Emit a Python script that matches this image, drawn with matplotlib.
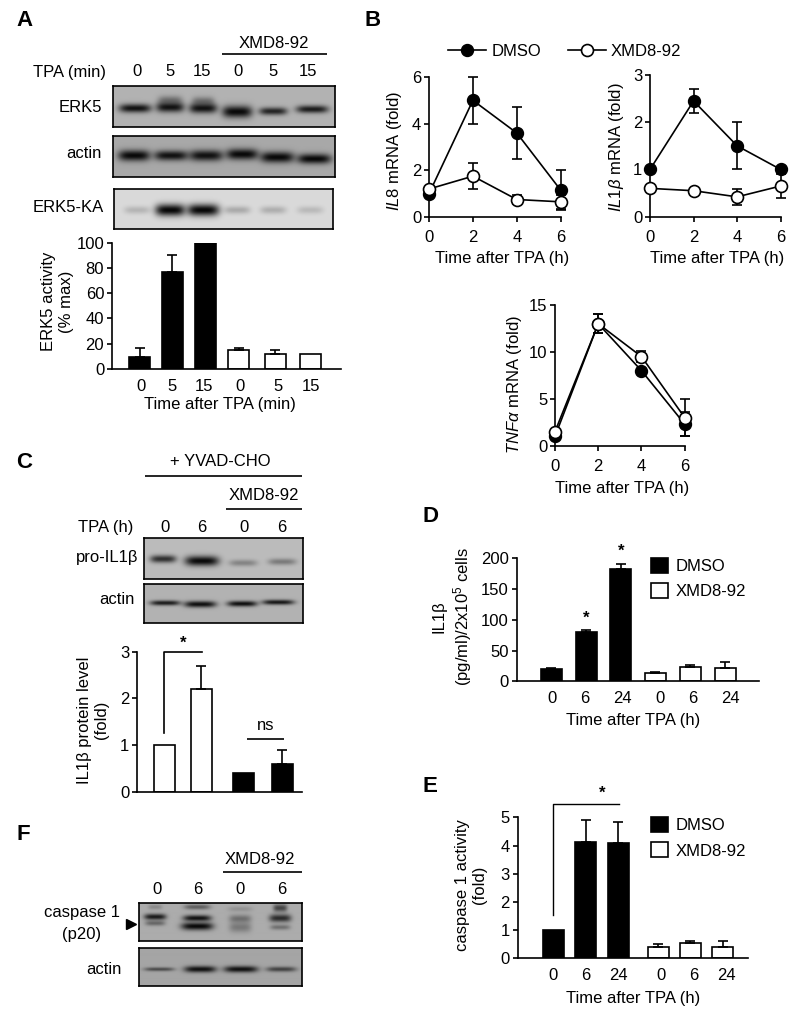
#!/usr/bin/env python
import matplotlib
matplotlib.use('Agg')
import matplotlib.pyplot as plt
from matplotlib.lines import Line2D
from matplotlib.patches import Patch
import numpy as np

plt.rcParams['font.family'] = ['Liberation Sans', 'DejaVu Sans']
plt.rcParams['mathtext.fontset'] = 'custom'
plt.rcParams['mathtext.rm'] = 'Liberation Sans'
plt.rcParams['mathtext.it'] = 'Liberation Sans:italic'
plt.rcParams['font.size'] = 12
plt.rcParams['axes.linewidth'] = 1.2

# A - ERK5 activity
a_labels = ['0', '5', '15', '0', '5', '15']
a_values = [9.5, 77, 100, 15, 12, 12]
a_errors = [7.5, 13, 0, 2, 3, 0]
a_colors = ['k', 'k', 'k', 'w', 'w', 'w']
a_yticks = [0, 20, 40, 60, 80, 100]

# B - mRNA time courses
hours = [0, 2, 4, 6]
il8_dmso = [1, 5, 3.6, 1.15]
il8_dmso_err = [0, 1, 1.1, 0.85]
il8_xmd = [1.2, 1.75, 0.75, 0.65]
il8_xmd_err = [0, 0.55, 0.2, 0.3]
il1b_dmso = [1, 2.45, 1.5, 1]
il1b_dmso_err = [0, 0.25, 0.5, 0]
il1b_xmd = [0.6, 0.55, 0.42, 0.65]
il1b_xmd_err = [0, 0, 0.17, 0.25]
tnf_dmso = [1, 13, 8, 2.3]
tnf_dmso_err = [0, 1, 0, 1.3]
tnf_xmd = [1.5, 13, 9.5, 3]
tnf_xmd_err = [0, 1, 0.6, 2]

# C - IL1b protein
c_values = [1, 2.2, 0.4, 0.6]
c_errors = [0, 0.5, 0, 0.3]
c_colors = ['w', 'w', 'k', 'k']

# D - IL1b secretion
d_labels = ['0', '6', '24', '0', '6', '24']
d_values = [20, 80, 182, 13, 23, 21]
d_errors = [2, 4, 8, 1.5, 4, 10]
d_colors = ['k', 'k', 'k', 'w', 'w', 'w']

# E - caspase 1 activity
e_values = [1, 4.12, 4.1, 0.4, 0.53, 0.4]
e_errors = [0, 0.8, 0.75, 0.1, 0.1, 0.2]

# blot bands: centre x, centre y, half width, half height, darkness
erk5_bands = [(135, 108, 16, 4.3, .9), (170, 107, 14, 5, .9), (170, 100, 12, 4.5, .35),
              (203, 108, 14, 5, .9), (203, 101, 11, 4.5, .35), (237, 111.5, 15, 6, .95),
              (273, 111, 14, 3.8, .8), (312, 109, 16, 3.8, .85)]
actin_a_bands = [(134, 155, 16, 5.5, .95), (171, 155, 17, 5, .9), (206, 155, 17, 5.5, .9),
                 (242, 153.7, 16, 5.5, .95), (277, 156.7, 17, 5.5, .95), (314, 158.3, 17, 5, .95)]
ka_bands = [(137, 210.5, 13, 3.8, .17), (170, 210.5, 15, 6, .97), (203, 210.5, 16, 6, .97),
            (237, 210.5, 13, 3.8, .22), (273, 210.5, 13, 3.8, .2), (310, 210.5, 13, 3.8, .15)]
pro_bands = [(163, 558.7, 13, 3.8, .75), (201.7, 560.7, 17, 5, .95),
             (243, 562.7, 14, 3.2, .3), (282, 561.5, 14, 3.2, .35)]
actin_c_bands = [(165, 602.7, 15, 2.5, .85), (200, 604, 16, 3.2, .92),
                 (242, 603.5, 15, 2.8, .92), (278, 602, 16, 2.5, .88)]
casp_bands = [(155, 916.7, 11, 3, .85), (155, 923, 10, 2.5, .4), (155, 907, 7, 2.5, .2),
              (197, 907, 13, 2.5, .45), (197, 918, 14, 3, .9), (197, 926, 16, 3.8, .95),
              (240, 909, 12, 2.5, .15), (240, 918.5, 11, 3.8, .35), (240, 927, 11, 5, .3),
              (280, 908, 7, 3.8, .6), (280, 918, 11, 3.8, .75), (280, 927, 10, 2.5, .35)]
actin_f_bands = [(159, 969, 15, 1.9, .55), (200, 969, 16, 3.2, .9),
                 (240.7, 969, 17, 3.2, .9), (281, 969, 15, 2.5, .6)]

W, H = 800, 1031
fig = plt.figure(figsize=(8, 10.31), dpi=100)

# whole figure in pixels, for labels and brackets
ov = fig.add_axes([0, 0, 1, 1], zorder=10)
ov.set_xlim(0, W)
ov.set_ylim(H, 0)
ov.axis('off')


def txt(x, y, s, ha='center', **kw):
    ov.text(x, y, s, ha=ha, va='center', **kw)


def hline(x0, x1, y, lw=1.2):
    ov.plot([x0, x1], [y, y], color='k', lw=lw, solid_capstyle='butt')


def box(x0, y0, x1, y1):
    return fig.add_axes([x0 / W, 1 - y1 / H, (x1 - x0) / W, (y1 - y0) / H])


def blot(x0, y0, x1, y1, bg, bands):
    ax = box(x0, y0, x1, y1)
    xx, yy = np.meshgrid(np.arange(x0, x1, 0.5), np.arange(y0, y1, 0.5))
    img = np.full(xx.shape, 1.0)
    for cx, cy, hw, hh, d in bands:
        img *= 1 - d * np.exp(-(np.abs(xx - cx) / hw) ** 4 - ((yy - cy) / hh) ** 2)
    ax.imshow(img * bg, cmap='gray', vmin=0, vmax=255, aspect='auto',
              extent=[x0, x1, y1, y0], interpolation='bilinear')
    ax.set_xticks([])
    ax.set_yticks([])
    return ax


def axis_style(ax, ylim, yticks):
    ax.spines['top'].set_visible(False)
    ax.spines['right'].set_visible(False)
    ax.set_ylim(ylim)
    ax.set_yticks(yticks)
    ax.tick_params(axis='y', length=3.6, width=1.2, pad=2)


def labels(ax, xlabel, xpos, ylabel, ypos):
    ax.set_xlabel(xlabel, va='center')
    ax.xaxis.set_label_coords(xpos[0], xpos[1], transform=ov.transData)
    ax.set_ylabel(ylabel, va='center', linespacing=1.25)
    ax.yaxis.set_label_coords(ypos[0], ypos[1], transform=ov.transData)


def bars(rect, ylim, yticks, bar_x, values, errors, colors, tick_x, tick_labels):
    ax = box(*rect)
    ax.set_xlim(rect[0], rect[2])
    axis_style(ax, ylim, yticks)
    ax.bar(bar_x, values, width=21, color=colors, edgecolor='k', linewidth=1.2)
    # bars without an error value get no cap
    has_err = np.array(errors) > 0
    ax.errorbar(np.array(bar_x)[has_err], np.array(values)[has_err],
                yerr=[np.zeros(has_err.sum()), np.array(errors)[has_err]], fmt='none',
                ecolor='k', elinewidth=1.2, capsize=3.8, capthick=1.2, clip_on=False)
    ax.set_xticks(tick_x)
    ax.set_xticklabels(tick_labels)
    ax.tick_params(axis='x', length=0, pad=7)
    return ax


def timecourse(rect, ylim, yticks, dmso, dmso_err, xmd, xmd_err):
    ax = box(*rect)
    ax.set_xlim(0, 6)
    axis_style(ax, ylim, yticks)
    l1 = ax.errorbar(hours, dmso, yerr=dmso_err, color='k', marker='o', ms=8.6, mfc='k', mec='k',
                     lw=1.2, capsize=3.8, capthick=1.2, clip_on=False, zorder=3)
    l2 = ax.errorbar(hours, xmd, yerr=xmd_err, color='k', marker='o', ms=8.6, mfc='w', mec='k',
                     mew=1.2, lw=1.2, capsize=3.8, capthick=1.2, clip_on=False, zorder=4)
    ax.set_xticks(hours)
    ax.tick_params(axis='x', length=3.6, width=1.2, pad=6)
    return ax, l1, l2


def bar_legend(ax, x, y):
    h = [Patch(facecolor='k', edgecolor='k', lw=1.2), Patch(facecolor='w', edgecolor='k', lw=1.2)]
    ax.legend(h, ['DMSO', 'XMD8-92'], frameon=False, loc='upper left', borderaxespad=0,
              borderpad=0, bbox_to_anchor=(x, y), bbox_transform=ov.transData, handlelength=1.0,
              handleheight=1.0, labelspacing=0.55, handletextpad=0.45, fontsize=12)


# panel letters
for letter, x, y in [('A', 16, 20), ('B', 364, 20), ('C', 16, 462), ('D', 423, 516),
                     ('E', 423, 787), ('F', 16, 835)]:
    txt(x, y, letter, ha='left', fontsize=16, fontweight='bold')

# A
blot(113, 86, 335, 126.7, 178, erk5_bands)
blot(113, 135.7, 335, 176.7, 168, actin_a_bands)
blot(114, 188.7, 333, 229.3, 218, ka_bands)
txt(274, 43, 'XMD8-92')
hline(221.7, 326.7, 54)
txt(106, 72, 'TPA (min)', ha='right')
for x, s in zip([137, 170, 201.7, 238, 273, 308], a_labels):
    txt(x, 71, s)
txt(102, 108, 'ERK5', ha='right')
txt(102, 153, 'actin', ha='right')
txt(104, 208, 'ERK5-KA', ha='right')
ax = bars((112, 242.7, 341, 369), (0, 100), a_yticks, [139.5, 172, 205, 238.7, 275, 310],
          a_values, a_errors, a_colors, [141, 172, 204, 240, 278, 311], a_labels)
labels(ax, 'Time after TPA (min)', (220, 405), 'ERK5 activity\n(% max)', (58, 301.7))

# B
ax, l1, l2 = timecourse((429, 77, 560.7, 217), (0, 6), [0, 2, 4, 6], il8_dmso, il8_dmso_err, il8_xmd, il8_xmd_err)
labels(ax, 'Time after TPA (h)', (501.7, 258), r'$\mathit{IL8}$ mRNA (fold)', (395, 150.7))
ax.legend([Line2D([], [], color='k', lw=1.2, marker='o', ms=8.6, mfc='k', mec='k'),
           Line2D([], [], color='k', lw=1.2, marker='o', ms=8.6, mfc='w', mec='k', mew=1.2)],
          ['DMSO', 'XMD8-92'], ncols=2, frameon=False, loc='center left', borderaxespad=0, borderpad=0,
          bbox_to_anchor=(448, 51), bbox_transform=ov.transData, handlelength=2.3,
          handletextpad=0.3, columnspacing=1.6, fontsize=12)
ax, _, _ = timecourse((650, 75, 780.7, 216.7), (0, 3), [0, 1, 2, 3], il1b_dmso, il1b_dmso_err, il1b_xmd, il1b_xmd_err)
labels(ax, 'Time after TPA (h)', (716.7, 258), r'$\mathit{IL1\beta}$ mRNA (fold)', (616, 146.7))
ax, _, _ = timecourse((555, 305, 684.7, 445.7), (0, 15), [0, 5, 10, 15], tnf_dmso, tnf_dmso_err, tnf_xmd, tnf_xmd_err)
labels(ax, 'Time after TPA (h)', (621.7, 488), r'$\mathit{TNF\alpha}$ mRNA (fold)', (515, 385))

# C
blot(144, 538, 303, 579, 188, pro_bands)
blot(144, 584, 303, 622.7, 178, actin_c_bands)
txt(220.7, 461.7, '+ YVAD-CHO')
hline(145, 301.7, 475.7)
txt(264, 495, 'XMD8-92')
hline(226, 301.7, 508.7)
txt(106, 527.7, 'TPA (h)')
for x, s in zip([164.7, 202, 244.3, 281.7], ['0', '6', '0', '6']):
    txt(x, 527, s)
txt(138, 557.7, 'pro-IL1β', ha='right')
txt(135, 600, 'actin', ha='right')
ax = bars((137, 651.7, 302, 792), (0, 3), [0, 1, 2, 3], [164, 201, 243.7, 282],
          c_values, c_errors, c_colors, [], [])
labels(ax, '', (220, 810), 'IL1β protein level\n(fold)', (93, 720))
ov.plot([164, 164, 202], [732.7, 652, 652], color='k', lw=1.2)
txt(183, 643, '*', fontweight='bold')
txt(266, 726, 'ns')
hline(247, 284, 738.7)

# D
ax = bars((516.7, 558.3, 759, 681.3), (0, 200), [0, 50, 100, 150, 200], [551, 586, 620.7, 655.3, 690, 725],
          d_values, d_errors, d_colors, [552, 585, 622, 659.7, 692.7, 730], d_labels)
labels(ax, 'Time after TPA (h)', (633, 720), 'IL1β\n(pg/ml)/2x10$^{5}$ cells', (453, 617))
bar_legend(ax, 651, 558)
txt(585.7, 618, '*', fontweight='bold')
txt(621, 551, '*', fontweight='bold')

# E
ax = bars((517.7, 817.3, 747.7, 958.3), (0, 5), [0, 1, 2, 3, 4, 5], [553.3, 585.7, 618, 658.3, 690, 722.7],
          e_values, e_errors, d_colors, [553, 585.7, 618.7, 661, 693.7, 726.7], d_labels)
labels(ax, 'Time after TPA (h)', (633, 998), 'caspase 1 activity\n(fold)', (471, 885))
bar_legend(ax, 651, 817)
ov.plot([553.3, 553.3, 618.7], [915, 804.3, 804.3], color='k', lw=1.0)
txt(602, 793, '*', fontweight='bold')

# F
blot(139, 903.3, 301.7, 940.7, 172, casp_bands)
blot(139, 948.3, 301.7, 985.7, 165, actin_f_bands)
txt(260, 859, 'XMD8-92')
hline(222.7, 301.7, 871.7)
for x, s in zip([157, 198, 240, 282], ['0', '6', '0', '6']):
    txt(x, 889, s)
txt(82, 913, 'caspase 1')
txt(82, 934, '(p20)')
txt(104, 970, 'actin')
ov.plot([131], [924], marker='>', ms=7, color='k')

fig.savefig('out.png', dpi=100)
